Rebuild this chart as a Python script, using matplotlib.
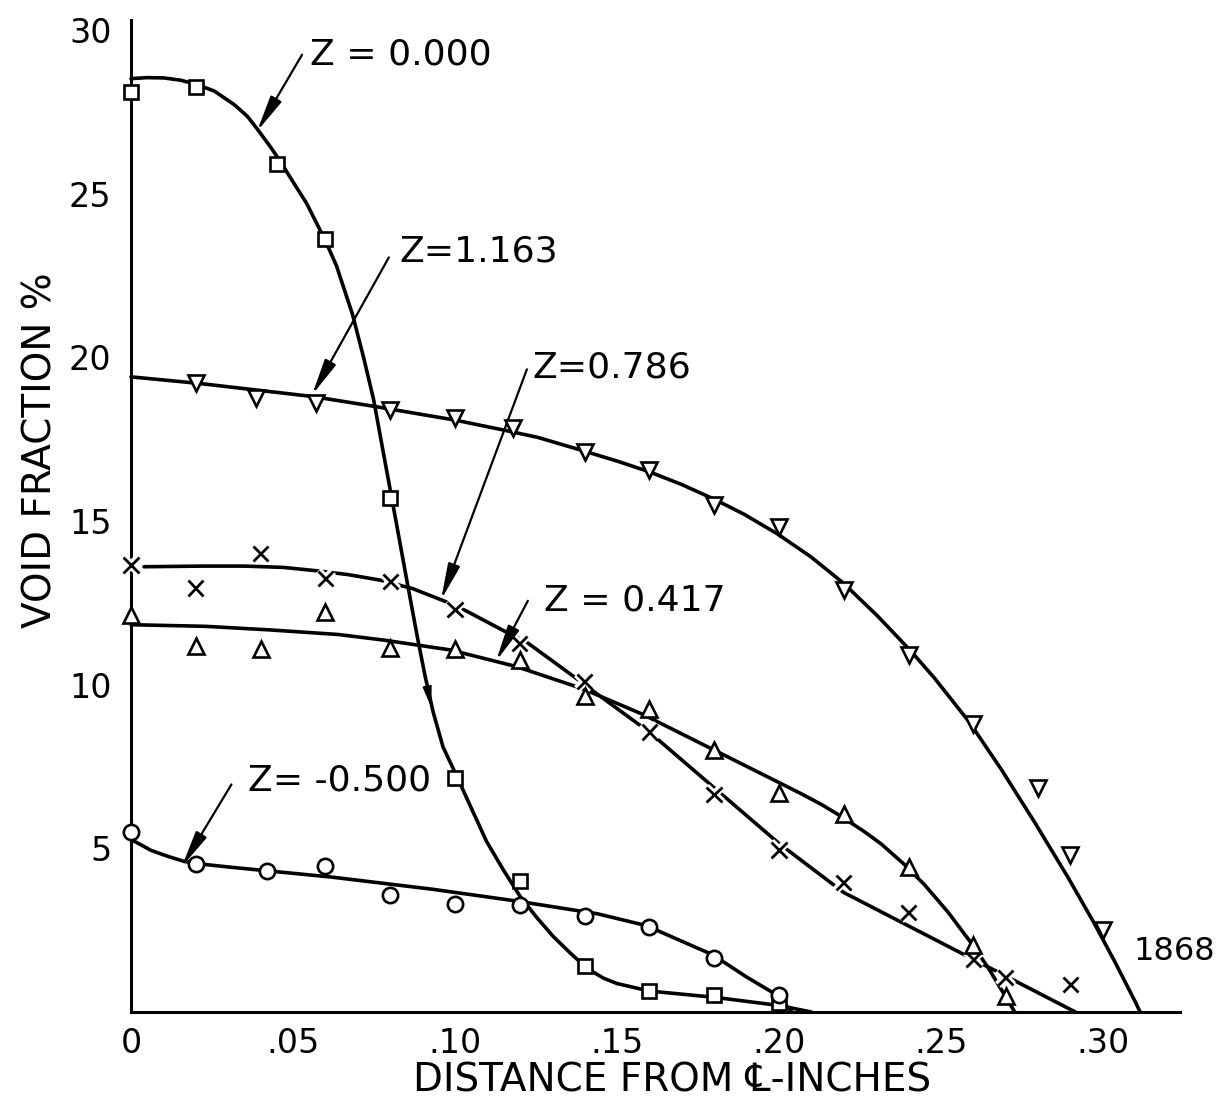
import matplotlib.pyplot as plt
from matplotlib import patheffects as pe

# Z = 0.000  (squares)
sq_x = [0.0, 0.02, 0.045, 0.06, 0.08, 0.10, 0.12, 0.14, 0.16, 0.18, 0.20]
sq_y = [28.1, 28.25, 25.9, 23.6, 15.7, 7.15, 4.0, 1.4, 0.65, 0.53, 0.27]
sq_fit_x = [0.0, 0.005, 0.0102, 0.0154, 0.0203, 0.0257, 0.0318, 0.0359, 0.0389, 0.043,
            0.0457, 0.0491, 0.0542, 0.0598, 0.0634, 0.0684, 0.0719, 0.0749, 0.0774,
            0.0805, 0.0828, 0.0853, 0.0883, 0.0908, 0.0933, 0.0963, 0.1008, 0.1047,
            0.1098, 0.115, 0.1201, 0.1253, 0.1304, 0.1356, 0.1407, 0.1459, 0.150,
            0.160, 0.180, 0.200, 0.210]
sq_fit_y = [28.51, 28.54, 28.53, 28.46, 28.33, 28.13, 27.72, 27.36, 26.98, 26.43,
            26.04, 25.5, 24.7, 23.6, 22.8, 21.3, 19.95, 18.7, 17.35,
            15.69, 14.45, 13.1, 11.5, 10.25, 9.15, 8.1, 7.15, 6.3,
            5.2, 4.33, 3.53, 2.88, 2.3, 1.8, 1.34, 1.03, 0.87,
            0.64, 0.45, 0.2, 0.0]

# Z = 1.163  (down triangles)
td_x = [0.02, 0.0385, 0.057, 0.08, 0.10, 0.118, 0.14, 0.16, 0.18, 0.20, 0.22, 0.24,
        0.26, 0.28, 0.29, 0.30]
td_y = [19.2, 18.75, 18.6, 18.4, 18.15, 17.85, 17.1, 16.55, 15.5, 14.8, 12.9, 10.9,
        8.8, 6.85, 4.8, 2.5]
td_fit_x = [0.0, 0.021, 0.056, 0.075, 0.10, 0.1153, 0.1256, 0.14, 0.1503, 0.160,
            0.1698, 0.1801, 0.1893, 0.1996, 0.2099, 0.2199, 0.2304, 0.2405, 0.248,
            0.2588, 0.2687, 0.2789, 0.2893, 0.2971, 0.3036, 0.3098, 0.3115]
td_fit_y = [19.4, 19.2, 18.8, 18.5, 18.08, 17.77, 17.55, 17.13, 16.82, 16.5,
            16.12, 15.66, 15.2, 14.6, 13.9, 13.1, 12.1, 11.05, 10.2,
            8.85, 7.4, 5.8, 4.1, 2.75, 1.55, 0.35, 0.0]

# Z = 0.786  (crosses)
cx_x = [0.0, 0.02, 0.04, 0.06, 0.08, 0.10, 0.12, 0.14, 0.16, 0.18, 0.20, 0.22, 0.24,
        0.26, 0.27, 0.29]
cx_y = [13.65, 12.95, 14.0, 13.25, 13.15, 12.3, 11.25, 10.1, 8.55, 6.65, 4.95, 3.95,
        3.05, 1.6, 1.05, 0.85]
cx_fit_x = [0.004, 0.022, 0.035, 0.047, 0.057, 0.067, 0.077, 0.087, 0.0965, 0.1033,
            0.1163, 0.1225, 0.138, 0.142, 0.16, 0.18, 0.20, 0.22, 0.2915]
cx_fit_y = [13.6, 13.62, 13.62, 13.58, 13.48, 13.36, 13.19, 12.93, 12.56, 12.26,
            11.58, 11.27, 10.15, 9.85, 8.55, 6.85, 5.15, 3.65, 0.0]

# Z = 0.417  (up triangles)
tu_x = [0.0, 0.02, 0.04, 0.06, 0.08, 0.10, 0.12, 0.14, 0.16, 0.18, 0.20, 0.22, 0.24,
        0.26, 0.27]
tu_y = [12.13, 11.17, 11.09, 12.23, 11.11, 11.1, 10.76, 9.65, 9.24, 8.0, 6.68, 6.04,
        4.44, 2.04, 0.5]
tu_fit_x = [0.0, 0.023, 0.043, 0.064, 0.078, 0.0985, 0.119, 0.1395, 0.158, 0.18,
            0.2008, 0.207, 0.2131, 0.2188, 0.2265, 0.2316, 0.2388, 0.245, 0.2522,
            0.2594, 0.2646, 0.2728]
tu_fit_y = [11.83, 11.78, 11.67, 11.53, 11.36, 11.06, 10.55, 9.87, 9.09, 8.0,
            6.97, 6.66, 6.34, 6.0, 5.5, 5.13, 4.5, 3.88, 3.05,
            2.1, 1.35, 0.0]

# Z = -0.500  (circles)
ci_x = [0.0, 0.02, 0.042, 0.06, 0.08, 0.10, 0.12, 0.14, 0.16, 0.18, 0.20]
ci_y = [5.5, 4.52, 4.32, 4.45, 3.58, 3.29, 3.27, 2.94, 2.6, 1.65, 0.51]
ci_fit_x = [0.0, 0.003, 0.0061, 0.0112, 0.0164, 0.0205, 0.031, 0.062, 0.093, 0.119,
            0.144, 0.159, 0.1795, 0.19, 0.1995, 0.204]
ci_fit_y = [5.27, 5.11, 4.94, 4.76, 4.6, 4.53, 4.42, 4.12, 3.75, 3.39,
            3.0, 2.64, 1.75, 1.07, 0.51, 0.0]

x_ticks = [0, 0.05, 0.10, 0.15, 0.20, 0.25, 0.30]
x_tick_labels = ["0", ".05", ".10", ".15", ".20", ".25", ".30"]
y_ticks = [5, 10, 15, 20, 25, 30]
y_tick_labels = ["5", "10", "15", "20", "25", "30"]

plt.rcParams["font.family"] = ["DejaVu Sans"]

fig = plt.figure(figsize=(12.25, 11.08), dpi=100)
ax = fig.add_axes([131 / 1225, 96 / 1108, 1049 / 1225, 992 / 1108])
ax.set_xlim(0, 0.3238)
ax.set_ylim(0, 30.3)

line_kw = dict(color="black", lw=2.6, solid_capstyle="round", solid_joinstyle="round",
               zorder=2, clip_on=False)
for fx, fy in [(sq_fit_x, sq_fit_y), (td_fit_x, td_fit_y), (cx_fit_x, cx_fit_y),
               (tu_fit_x, tu_fit_y), (ci_fit_x, ci_fit_y)]:
    ax.plot(fx, fy, **line_kw)

mk_kw = dict(linestyle="none", mfc="white", mec="black", mew=1.9, zorder=4, clip_on=False)
ax.plot(sq_x, sq_y, marker="s", ms=10, **mk_kw)
ax.plot(td_x, td_y, marker="v", ms=12, **mk_kw)
ax.plot(tu_x, tu_y, marker="^", ms=12, **mk_kw)
ax.plot(ci_x, ci_y, marker="o", ms=11, **mk_kw)
ax.plot(cx_x, cx_y, linestyle="none", marker="x", ms=11, mec="black", mew=2.0,
        zorder=3, clip_on=False,
        path_effects=[pe.Stroke(linewidth=6, foreground="white"), pe.Normal()])

arrow_kw = dict(arrowstyle="-|>,head_length=1.0,head_width=0.17", color="black",
                lw=1.6, mutation_scale=22, shrinkA=0, shrinkB=0)
label_fs = 26
notes = [
    ("Z = 0.000", (0.0552, 29.24), (0.0528, 29.24), (0.0389, 26.9)),
    ("Z=1.163", (0.0827, 23.23), (0.0796, 23.05), (0.0559, 18.85)),
    ("Z=0.786", (0.1240, 19.70), (0.1222, 19.63), (0.0957, 12.59)),
    ("Z = 0.417", (0.1275, 12.56), (0.1225, 12.56), (0.1127, 10.72)),
    ("Z= -0.500", (0.0361, 7.07), (0.0310, 6.95), (0.0157, 4.44)),
]
for txt, tpos, tail, tip in notes:
    ax.text(tpos[0], tpos[1], txt, fontsize=label_fs, ha="left", va="center")
    ax.annotate("", xy=tip, xytext=tail, arrowprops=arrow_kw)

# small direction barb on the Z = 0.000 curve
ax.annotate("", xy=(0.0927, 9.3), xytext=(0.0905, 10.4),
            arrowprops=dict(arrowstyle="-|>,head_length=0.7,head_width=0.15",
                            color="black", lw=1.2, mutation_scale=18,
                            shrinkA=0, shrinkB=0))

ax.text(0.3093, 1.86, "1868", fontsize=23, ha="left", va="center")

ax.set_xticks(x_ticks)
ax.set_xticklabels(x_tick_labels)
ax.set_yticks(y_ticks)
ax.set_yticklabels(y_tick_labels)
ax.tick_params(length=0, labelsize=24)
ax.tick_params(axis="x", pad=11)
ax.tick_params(axis="y", pad=14)

for side in ["top", "right"]:
    ax.spines[side].set_visible(False)
for side in ["left", "bottom"]:
    ax.spines[side].set_linewidth(2.2)

fig.text(672 / 1225, 1 - 1080 / 1108, "DISTANCE FROM \u2104-INCHES", fontsize=28,
         ha="center", va="center")
fig.text(40 / 1225, 1 - 450 / 1108, "VOID FRACTION %", fontsize=28,
         ha="center", va="center", rotation=90)

fig.savefig("out.png", dpi=100)
